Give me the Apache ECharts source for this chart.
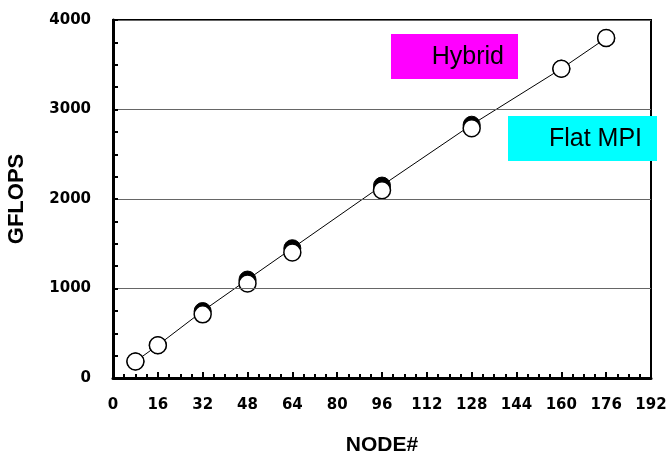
<!DOCTYPE html>
<html>
<head>
<meta charset="utf-8">
<script src="https://cdn.jsdelivr.net/npm/echarts@6/dist/echarts.min.js"></script>
<style>html,body{margin:0;padding:0;background:#fff;}#c{width:669px;height:456px;}</style>
</head>
<body>
<div id="c"></div>
<script>
var nodes = [8, 16, 32, 48, 64, 96, 128, 160, 176];
var hybrid = [185, 366, 748, 1100, 1450, 2150, 2830, 3456, 3798];
var flatMPI = [185, 366, 711, 1057, 1403, 2098, 2790, 3456, 3798];
var xTicks = [0, 16, 32, 48, 64, 80, 96, 112, 128, 144, 160, 176, 192];
var yTicks = [0, 1000, 2000, 3000, 4000];
var xMinorStep = 4;
var yMinorStep = 250;
var legendNames = ['Hybrid', 'Flat MPI'];

function pairs(xs, ys) { return xs.map(function (x, i) { return [x, ys[i]]; }); }

var xMin = xTicks[0], xMax = xTicks[xTicks.length - 1];
var yMin = yTicks[0], yMax = yTicks[yTicks.length - 1];

var chart = echarts.init(document.getElementById('c'), null, {renderer: 'canvas'});
var tickFont = {fontFamily: 'DejaVu Sans', fontWeight: 'bold', fontSize: 15, color: '#000', formatter: function (v) { return String(v); }};
chart.setOption({
  animation: false,
  backgroundColor: '#fff',
  grid: {left: 113, right: 18, top: 20, bottom: 78, containLabel: false, outerBoundsMode: 'none',
         show: true, borderColor: '#000', borderWidth: 2, backgroundColor: 'transparent'},
  xAxis: [{
    type: 'value', min: xMin, max: xMax, interval: xTicks[1] - xTicks[0],
    name: 'NODE#', nameLocation: 'middle', nameGap: 57,
    nameTextStyle: {fontFamily: 'Liberation Sans', fontWeight: 'bold', fontSize: 21, color: '#000'},
    axisLine: {show: true, lineStyle: {color: '#000', width: 3}},
    axisTick: {show: true, inside: true, length: 6, lineStyle: {color: '#000', width: 2}},
    axisLabel: Object.assign({margin: 20}, tickFont),
    splitLine: {show: false}, z: 5
  }, {
    type: 'value', min: xMin, max: xMax, interval: xMinorStep, position: 'bottom',
    axisLine: {show: false},
    axisTick: {show: true, inside: true, length: 4, lineStyle: {color: '#000', width: 2}},
    axisLabel: {show: false}, splitLine: {show: false}
  }],
  yAxis: [{
    type: 'value', min: yMin, max: yMax, interval: yTicks[1] - yTicks[0],
    name: 'GFLOPS', nameLocation: 'middle', nameGap: 85, nameRotate: 90,
    nameTextStyle: {fontFamily: 'Liberation Sans', fontWeight: 'bold', fontSize: 22, color: '#000'},
    axisLine: {show: true, lineStyle: {color: '#000', width: 3}},
    axisTick: {show: true, inside: true, length: 5, lineStyle: {color: '#000', width: 2}},
    axisLabel: Object.assign({margin: 22}, tickFont),
    splitLine: {show: true, lineStyle: {color: '#666', width: 1}}, z: 5
  }, {
    type: 'value', min: yMin, max: yMax, interval: yMinorStep, position: 'left',
    axisLine: {show: false},
    axisTick: {show: true, inside: true, length: 5, lineStyle: {color: '#000', width: 2}},
    axisLabel: {show: false}, splitLine: {show: false}
  }],
  series: [
    {
      name: legendNames[0], type: 'line', data: pairs(nodes, hybrid), z: 2,
      symbol: 'circle', symbolSize: 17,
      itemStyle: {color: '#000', borderColor: '#000', borderWidth: 1},
      lineStyle: {color: '#000', width: 1}
    },
    {
      name: legendNames[1], type: 'scatter', data: pairs(nodes, flatMPI), z: 3,
      symbol: 'circle', symbolSize: 17,
      itemStyle: {color: '#fff', borderColor: '#000', borderWidth: 1.5, opacity: 1}
    }
  ],
  graphic: [
    {type: 'rect', z: 100, shape: {x: 391, y: 34, width: 127, height: 45}, style: {fill: '#ff00ff'}},
    {type: 'text', z: 101, x: 504, y: 57, style: {text: legendNames[0], textAlign: 'right', textVerticalAlign: 'middle', font: '25px "Liberation Sans"', fill: '#000'}},
    {type: 'rect', z: 100, shape: {x: 508, y: 116, width: 149, height: 45}, style: {fill: '#00ffff'}},
    {type: 'text', z: 101, x: 642, y: 139, style: {text: legendNames[1], textAlign: 'right', textVerticalAlign: 'middle', font: '25px "Liberation Sans"', fill: '#000'}}
  ]
});
</script>
</body>
</html>
